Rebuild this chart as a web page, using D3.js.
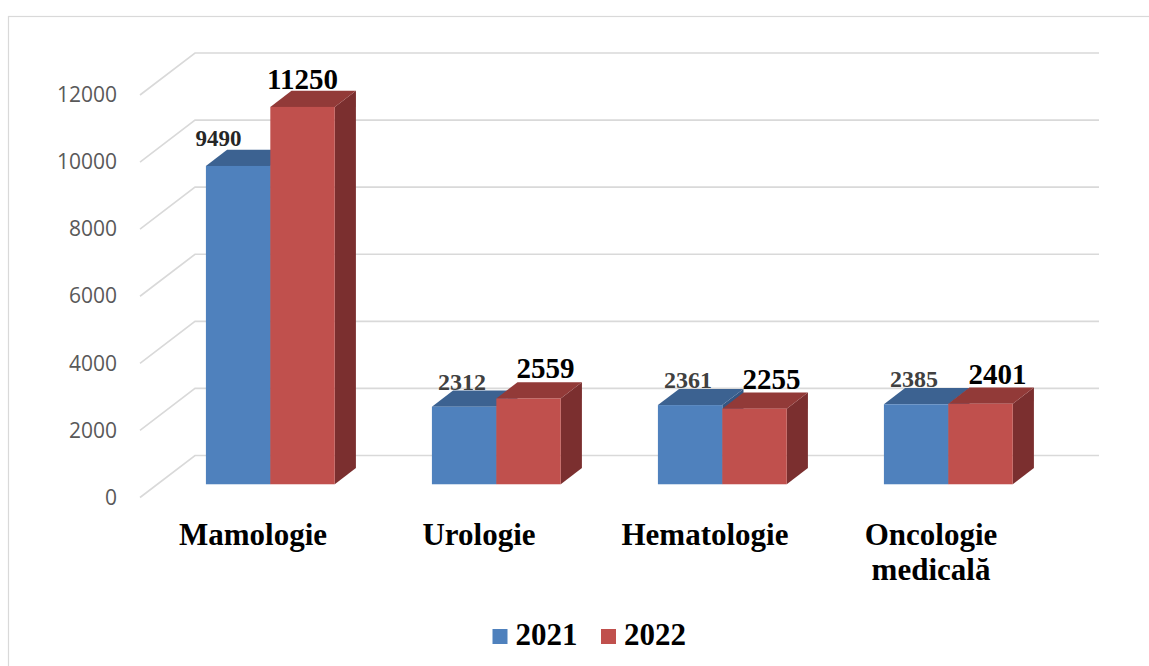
<!DOCTYPE html>
<html>
<head>
<meta charset="utf-8">
<script src="https://cdn.jsdelivr.net/npm/d3@7"></script>
<style>
  body { margin: 0; background: #fff; }
  svg { display: block; }
</style>
</head>
<body>
<div id="chart"></div>
<script>
// data
const categories = ["Mamologie", "Urologie", "Hematologie", "Oncologie medicală"];
const series = ["2021", "2022"];
const values2021 = [9490, 2312, 2361, 2385];
const values2022 = [11250, 2559, 2255, 2401];
const yTicks = [0, 2000, 4000, 6000, 8000, 10000, 12000];

const svgWidth = 1149;
const svgHeight = 666;

// 3d look: floor depth offset and where the bars sit in depth
const DX = 55, DY = 42;
const zFront = 0.315, zBack = 0.70;

const colors = {
  "2021": { front: "#4F81BD", top: "#3C6291", side: "#345683" },
  "2022": { front: "#C0504D", top: "#923A38", side: "#7B2F2F" }
};
// hand-placed labels on the first group
const labelNudge = { "Mamologie": { "2021": [-17.5, -3], "2022": [-17, 2] } };

const svg = d3.select("#chart")
  .append("svg")
  .attr("width", svgWidth)
  .attr("height", svgHeight);

// chart border
svg.append("rect")
  .attr("x", 8.5).attr("y", 16.5)
  .attr("width", 1200).attr("height", 700)
  .attr("fill", "none")
  .attr("stroke", "#D9D9D9")
  .attr("stroke-width", 1.2);

const x0 = d3.scaleBand()
  .domain(categories)
  .range([140, 1044])
  .paddingInner(0.43)
  .paddingOuter(0.215);

const x1 = d3.scaleBand()
  .domain(series)
  .range([0, x0.bandwidth()]);

const y = d3.scaleLinear()
  .domain([0, 12000])
  .range([497.5, 95]);

const P = (x, v, z) => [x + z * DX, y(v) - z * DY];
const poly = pts => pts.map(p => p.join(",")).join(" ");

// gridlines: left wall diagonal + back wall
const xL = x0.range()[0], xR = x0.range()[1];
svg.append("g")
  .selectAll("path")
  .data(yTicks)
  .enter()
  .append("path")
  .attr("d", t => "M" + P(xL, t, 0) + "L" + P(xL, t, 1) + "L" + P(xR, t, 1))
  .attr("fill", "none")
  .attr("stroke", "#D9D9D9")
  .attr("stroke-width", 1.6);

// y axis labels
const yAxis = svg.append("g")
  .attr("transform", "translate(125,0)")
  .call(d3.axisLeft(y).tickValues(yTicks).tickSize(0).tickPadding(8).tickFormat(d3.format("d")));
yAxis.select(".domain").remove();
yAxis.selectAll("text")
  .attr("fill", "#595959")
  .style("font-family", "'Open Sans', 'Liberation Sans', sans-serif")
  .style("font-size", "21px");

// bars
const rows = [];
categories.forEach((c, i) => {
  rows.push({ cat: c, s: "2021", v: values2021[i] });
  rows.push({ cat: c, s: "2022", v: values2022[i] });
});

const barG = svg.append("g");
rows.forEach(d => {
  const xa = x0(d.cat) + x1(d.s);
  const xb = xa + x1.bandwidth();
  const col = colors[d.s];
  const g = barG.append("g");
  // side
  g.append("polygon")
    .attr("points", poly([P(xb, 0, zFront), P(xb, 0, zBack), P(xb, d.v, zBack), P(xb, d.v, zFront)]))
    .attr("fill", col.side);
  // top
  g.append("polygon")
    .attr("points", poly([P(xa, d.v, zFront), P(xa, d.v, zBack), P(xb, d.v, zBack), P(xb, d.v, zFront)]))
    .attr("fill", col.top);
  // front
  const f0 = P(xa, d.v, zFront), f1 = P(xb, 0, zFront);
  g.append("rect")
    .attr("x", f0[0]).attr("y", f0[1])
    .attr("width", f1[0] - f0[0]).attr("height", f1[1] - f0[1])
    .attr("fill", col.front);
});

// value labels
rows.forEach(d => {
  const xa = x0(d.cat) + x1(d.s) + zFront * DX;
  const cx = xa + x1.bandwidth() / 2;
  const top = y(d.v) - zFront * DY;
  const nudge = (labelNudge[d.cat] && labelNudge[d.cat][d.s]) || [0, 0];
  const first = d.s === "2021";
  const big = d.cat === "Mamologie";
  svg.append("text")
    .attr("x", cx + (first ? -2 : 17) + nudge[0])
    .attr("y", top - (first ? 17 : 20) + nudge[1])
    .attr("text-anchor", "middle")
    .attr("fill", first ? (big ? "#262626" : "#404040") : "#000")
    .style("font-family", "'Liberation Serif', 'Times New Roman', serif")
    .style("font-weight", "bold")
    .style("font-size", first ? (big ? "23px" : "24px") : "29px")
    .text(d.v);
});

// category labels
svg.append("g")
  .selectAll("text")
  .data(categories)
  .enter()
  .append("text")
  .attr("text-anchor", "middle")
  .attr("y", 544.5)
  .style("font-family", "'Liberation Serif', 'Times New Roman', serif")
  .style("font-weight", "bold")
  .style("font-size", "31px")
  .attr("fill", "#000")
  .each(function (c) {
    const cx = x0(c) + x0.bandwidth() / 2;
    d3.select(this).selectAll("tspan")
      .data(c.split(" "))
      .enter()
      .append("tspan")
      .attr("x", cx)
      .attr("dy", (w, i) => i === 0 ? 0 : 35)
      .text(w => w);
  });

// legend
const legendX = [492.5, 601];
const legend = svg.append("g")
  .selectAll("g")
  .data(series)
  .enter()
  .append("g")
  .attr("transform", (s, i) => `translate(${legendX[i]},0)`);
legend.append("rect")
  .attr("x", 0).attr("y", 629)
  .attr("width", 15).attr("height", 15)
  .attr("fill", s => colors[s].front);
legend.append("text")
  .attr("x", 23).attr("y", 645)
  .style("font-family", "'Liberation Serif', 'Times New Roman', serif")
  .style("font-weight", "bold")
  .style("font-size", "31px")
  .attr("fill", "#000")
  .text(s => s);
</script>
</body>
</html>
